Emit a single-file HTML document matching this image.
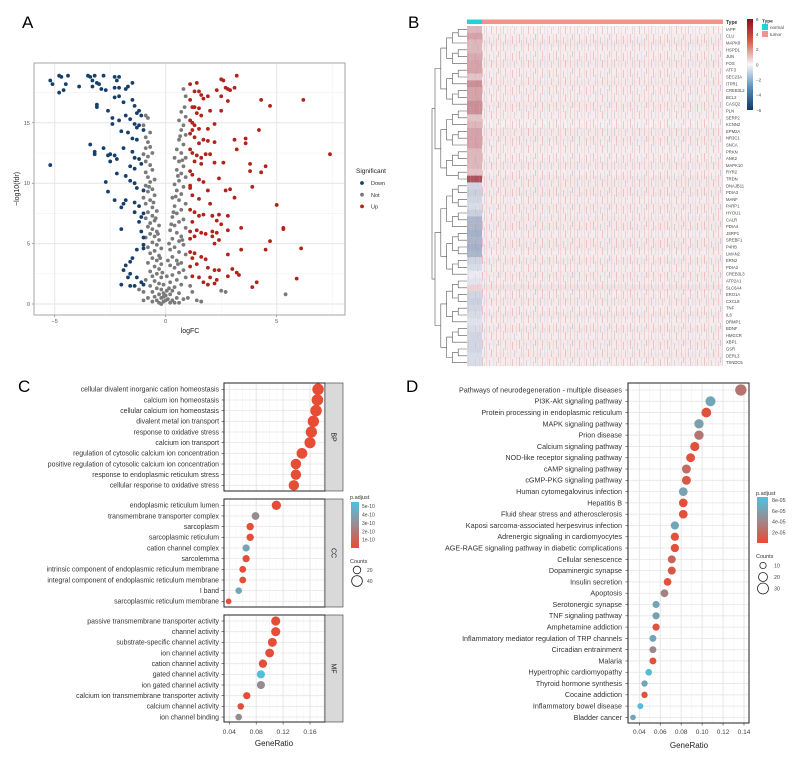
<!DOCTYPE html>
<html><head><meta charset="utf-8">
<style>
html,body{margin:0;padding:0;background:#fff;}
svg{display:block;font-family:"Liberation Sans",sans-serif;}
</style></head>
<body>
<svg id="fig" width="809" height="757" viewBox="0 0 809 757" xmlns="http://www.w3.org/2000/svg">
<defs>
<linearGradient id="hmbar" x1="0" y1="0" x2="0" y2="1">
<stop offset="0" stop-color="#8e0c1e"/><stop offset="0.25" stop-color="#d6604d"/><stop offset="0.5" stop-color="#f7f7f7"/><stop offset="0.75" stop-color="#5b8fc3"/><stop offset="1" stop-color="#13386b"/>
</linearGradient>
<linearGradient id="pbar" x1="0" y1="0" x2="0" y2="1">
<stop offset="0" stop-color="#4fc1e0"/><stop offset="0.5" stop-color="#9c8a8f"/><stop offset="1" stop-color="#ea4a32"/>
</linearGradient>
<pattern id="streaks" patternUnits="userSpaceOnUse" width="37" height="17">
<rect x="1" y="0" width="0.9" height="9" fill="#d9534f" opacity="0.3"/>
<rect x="3" y="6" width="0.8" height="11" fill="#6d8fbd" opacity="0.25"/>
<rect x="5" y="0" width="1.1" height="17" fill="#eab0b0" opacity="0.35"/>
<rect x="8" y="3" width="0.8" height="7" fill="#6d8fbd" opacity="0.3"/>
<rect x="10" y="9" width="0.9" height="8" fill="#d9534f" opacity="0.3"/>
<rect x="12" y="0" width="1.2" height="12" fill="#c8d4e4" opacity="0.4"/>
<rect x="15" y="4" width="0.8" height="13" fill="#d9534f" opacity="0.25"/>
<rect x="17" y="0" width="1" height="6" fill="#6d8fbd" opacity="0.3"/>
<rect x="19" y="0" width="1.1" height="17" fill="#eab0b0" opacity="0.35"/>
<rect x="22" y="8" width="0.8" height="9" fill="#6d8fbd" opacity="0.3"/>
<rect x="24" y="0" width="0.9" height="10" fill="#d9534f" opacity="0.28"/>
<rect x="26" y="5" width="1.2" height="12" fill="#c8d4e4" opacity="0.4"/>
<rect x="29" y="0" width="0.8" height="17" fill="#eab0b0" opacity="0.35"/>
<rect x="31" y="2" width="0.9" height="8" fill="#c23b3b" opacity="0.25"/>
<rect x="33" y="10" width="0.8" height="7" fill="#6d8fbd" opacity="0.28"/>
<rect x="35" y="0" width="1" height="13" fill="#eab0b0" opacity="0.35"/>
</pattern>
</defs>
</svg>
<script>
// ---------- DATA: panel A (volcano) ----------
const downPts=[[-5.2,18.5],[-5.1,18.2],[-4.8,18.9],[-4.7,18.8],[-4.4,18.9],[-4.5,18.2],[-4.6,17.7],[-4.8,17.5],[-3.9,18],[-3.5,18.9],[-3.4,18.8],[-3.3,18.5],[-3.2,18.9],[-3.1,18.3],[-3.0,18.2],[-3.3,18.0],[-2.8,18.9],[-2.7,17.7],[-2.9,17.8],[-2.3,18.8],[-2.2,18.5],[-2.1,18.8],[-2.3,17.9],[-2.1,17.9],[-1.8,17.8],[-1.7,18.0],[-1.5,18.3],[-2.3,17.1],[-2.1,17.2],[-3.1,16.5],[-3.1,16.3],[-2.6,16.0],[-1.9,16.7],[-1.5,16.9],[-1.4,16.4],[-1.2,16.0],[-1.1,15.6],[-1.3,15.8],[-2.4,15.4],[-2.1,15.2],[-1.8,15.6],[-1.6,15.3],[-1.4,14.9],[-1.3,14.6],[-2.4,14.9],[-2.0,14.3],[-1.7,14.2],[-1.2,14.8],[-1.0,14.4],[-1.5,13.7],[-1.3,13.6],[-3.4,13.2],[-3.2,12.6],[-3.2,12.4],[-2.8,12.9],[-2.5,12.4],[-2.3,12.3],[-2.6,12.3],[-2.2,12.0],[-2.5,11.8],[-1.9,12.9],[-1.5,12.6],[-1.4,12.1],[-1.2,12.0],[-1.6,11.4],[-1.4,11.2],[-1.1,11.6],[-1.8,10.6],[-2.2,10.8],[-5.2,11.5],[-2.7,10.1],[-1.6,10.2],[-1.4,10.0],[-1.3,9.6],[-1.0,9.4],[-2.6,9.3],[-2.3,8.6],[-1.9,8.3],[-1.8,8.6],[-2.0,8.0],[-1.4,8.4],[-1.2,8.1],[-1.4,7.6],[-1.0,7.5],[-1.1,7.2],[-1.2,6.8],[-2.0,6.2],[-1.1,6.0],[-1.0,5.5],[-1.0,4.9],[-1.0,4.6],[-1.3,4.5],[-1.5,3.8],[-1.6,3.5],[-1.8,3.2],[-1.9,2.8],[-1.6,2.5],[-1.7,2.2],[-1.3,2.2],[-1.4,1.5],[-1.6,1.5],[-2.0,1.6],[-1.1,1.8],[-1.0,1.6]];
const upPts=[[1.1,18.2],[1.4,18.3],[1.5,17.6],[1.6,17.3],[1.7,17.0],[1.9,17.2],[1.3,17.6],[2.3,17.7],[2.5,18.6],[2.6,18.5],[2.7,17.9],[2.8,17.8],[2.9,17.7],[3.1,17.9],[3.2,18.9],[2.5,17.2],[2.8,16.8],[1.1,16.9],[1.2,16.3],[1.3,16.3],[1.5,16.2],[1.4,15.8],[1.6,15.6],[2.0,16.0],[2.5,16.0],[4.3,16.9],[4.7,16.4],[6.2,16.9],[1.1,15.2],[1.2,15.0],[1.3,14.8],[1.2,14.4],[1.5,14.5],[1.9,14.5],[2.2,14.9],[4.2,14.4],[1.1,14.1],[1.3,13.8],[1.5,13.3],[1.7,13.6],[1.9,13.5],[2.2,13.4],[3.1,13.6],[3.6,13.7],[3.6,13.3],[3.2,12.8],[1.1,12.8],[1.2,12.5],[1.4,12.3],[1.6,12.1],[1.8,12.4],[2.0,12.4],[1.3,11.8],[1.6,11.6],[2.2,11.7],[2.6,11.7],[3.8,11.6],[4.5,11.4],[7.4,12.4],[1.1,11.0],[1.2,10.7],[1.5,10.3],[1.7,10.1],[2.4,10.4],[3.8,11.0],[4.3,10.9],[1.1,9.8],[1.1,9.6],[1.9,9.4],[2.7,9.4],[2.9,9.5],[3.9,9.7],[1.2,9.0],[1.5,8.7],[2.0,8.3],[3.1,8.8],[5.0,8.2],[1.1,7.8],[1.3,7.6],[1.5,7.3],[1.7,7.4],[2.1,7.3],[2.4,7.4],[2.8,7.3],[1.2,6.8],[2.3,6.9],[2.5,6.6],[1.1,6.0],[1.4,6.1],[1.6,5.9],[1.8,5.8],[2.1,6.0],[2.3,5.9],[2.8,6.1],[3.4,6.3],[5.3,6.2],[5.3,6.3],[1.1,5.4],[1.3,5.6],[2.1,5.6],[2.4,5.3],[2.2,5.0],[4.7,5.2],[4.5,4.5],[6.1,4.6],[1.1,4.3],[1.3,4.2],[3.4,4.5],[1.2,3.8],[1.6,3.9],[1.8,3.7],[2.8,4.1],[1.1,3.1],[1.4,3.3],[1.9,3.0],[2.2,2.8],[2.4,2.8],[3.0,2.9],[3.2,2.6],[1.2,2.3],[1.5,2.2],[2.0,2.2],[2.3,2.0],[2.8,2.3],[3.3,2.4],[5.9,2.1],[1.7,1.8],[1.9,1.6],[2.2,1.7],[3.9,1.4],[4.1,1.8]];
const notPts=[[-0.9,15.6],[-0.8,15.4],[-1.0,14.8],[-0.8,13.4],[-0.7,13.0],[-0.9,12.9],[-0.6,12.5],[-0.8,12.2],[-0.9,11.8],[-0.7,11.5],[-0.6,11.1],[-0.9,10.9],[-0.8,10.5],[-0.5,10.3],[-0.7,10.1],[-0.9,9.8],[-0.6,9.5],[-0.8,9.3],[-0.5,9.0],[-1.0,8.8],[-0.7,8.6],[-0.9,8.3],[-0.6,8.0],[-0.4,7.7],[-0.8,7.6],[-0.6,7.3],[-0.9,7.1],[-0.5,6.9],[-0.7,6.7],[-0.3,6.5],[-0.8,6.4],[-0.6,6.2],[-0.4,6.0],[-0.7,5.8],[-0.5,5.6],[-0.9,5.5],[-0.3,5.3],[-0.6,5.1],[-0.4,4.9],[-0.8,4.7],[-0.2,4.6],[-0.5,4.4],[-0.7,4.2],[-0.3,4.0],[-0.6,3.8],[-0.4,3.6],[-0.8,3.4],[-0.2,3.3],[-0.5,3.1],[-0.3,2.9],[-0.7,2.7],[-0.4,2.5],[-0.6,2.3],[-0.2,2.2],[-0.9,2.0],[-0.5,1.9],[-0.3,1.7],[-0.7,1.5],[-0.4,1.3],[-0.2,1.2],[-0.6,1.0],[-1.0,1.0],[-0.3,0.8],[-0.5,0.6],[-0.8,0.5],[-0.2,0.5],[-0.4,0.3],[-0.1,0.2],[-0.6,0.2],[-0.3,0.1],[-0.1,0.6],[-0.1,0.9],[0.0,0.3],[0.0,0.7],[-0.9,13.8],[-0.7,14.2],[-1.0,12.4],[-0.75,9.7],[-0.55,8.4],[-0.45,7.1],[-0.35,5.8],[-0.25,3.8],[-0.15,2.6],[-0.1,1.6],[0.05,1.1],[0.1,0.4],[0.2,0.1],[-0.2,0.0],[-1.2,1.2],[-1.0,0.3],
[0.8,17.8],[0.9,17.2],[0.85,16.3],[0.7,15.9],[0.9,15.5],[0.6,15.2],[0.8,14.8],[0.7,14.4],[0.9,14.0],[0.6,13.6],[0.8,13.2],[0.5,12.8],[0.7,12.5],[0.9,12.1],[0.4,12.1],[0.6,11.8],[0.8,11.4],[0.5,11.1],[0.7,10.8],[0.9,10.5],[0.6,10.2],[0.4,9.9],[0.8,9.7],[0.5,9.4],[0.7,9.1],[0.3,8.8],[0.6,8.6],[0.9,8.3],[0.4,8.1],[0.7,7.8],[0.5,7.5],[0.3,7.2],[0.8,7.0],[0.6,6.8],[0.4,6.5],[0.9,6.3],[0.2,6.1],[0.5,5.9],[0.7,5.6],[0.3,5.4],[0.6,5.2],[0.8,4.9],[0.4,4.7],[0.2,4.5],[0.6,4.3],[0.9,4.1],[0.3,3.9],[0.5,3.6],[0.7,3.4],[0.2,3.2],[0.4,3.0],[0.8,2.8],[0.6,2.6],[0.3,2.4],[0.9,2.2],[0.5,2.0],[0.2,1.8],[0.7,1.6],[0.4,1.4],[0.3,1.1],[0.6,0.9],[0.2,0.8],[0.5,0.5],[0.3,0.3],[0.8,0.4],[0.4,0.1],[0.6,0.1],[1.1,1.5],[1.2,1.0],[1.0,0.5],[1.6,0.2],[1.4,0.3],[2.5,1.1],[2.7,1.0],[5.4,0.8],[0.65,13.9],[0.75,11.9],[0.55,10.6],[0.45,8.9],[0.35,7.6],[0.25,6.6],[0.15,5.0],[0.1,3.6],[0.05,2.3],[0.15,1.3],[0.55,3.3],[0.75,5.3]];
const volcanoXTicks=[-5,0,5];
const volcanoYTicks=[0,5,10,15];

// ---------- DATA: panel B (heatmap) ----------
const genes=["IAPP","CLU","MAPK8","HSPD1","JUN","FOS","ATF3","SEC23A","ITPR1","CREB3L2","BCL2","CASQ2","PLN","SERP2","KCNN2","EPM2A","NR3C1","SNCA","PRKN","ANK2","MAPK10","RYR2","TRDN","DNAJB11","PDIA3","MANF","PARP1","HYOU1","CALR","PDIA4","JSRP1","SREBF1","P4HB","LMAN2","ERN2","PDIA2","CREB3L3","ATP2A1","SLC6A4","ERO1A","CXCL8","TNF","IL6","DRMP1","BDNF","HMGCR","XBP1","GSR","DERL3","TXNDC5"];
const normalVals=[1.5,2,1.5,1.5,1.8,2,2,1.2,2.5,2,2,2.5,2.5,1.2,1.5,2,2,2,1.5,1.5,1.5,1.2,4,-1,-1.2,-1,-0.8,-1.2,-2,-2,-2.2,-2,-2.2,-2,-1,-0.8,-0.3,-0.5,0.8,-1,-1.2,-1,-0.8,-0.6,-0.8,-1,-1,-1,-0.8,-0.8];
const tumorVals=[0.1,0.2,0.3,0.2,0.2,0.3,0.2,0.2,0.3,0.2,0.2,0.3,0.2,0.2,0.1,0.3,0.3,0.2,0.2,0.2,0.3,0.2,0.3,0.3,0.3,0.2,0.3,0.2,0.3,0.3,0.2,0.3,0.3,0.2,0.3,0.2,0.3,0.2,0.4,0.2,0.3,0.2,0.3,0.2,0.3,0.2,0.3,0.2,0.3,0.2];
const hmLegendTicks=[6,4,2,0,-2,-4,-6];

// ---------- DATA: panel C (GO dotplot) ----------
const bpTerms=["cellular divalent inorganic cation homeostasis","calcium ion homeostasis","cellular calcium ion homeostasis","divalent metal ion transport","response to oxidative stress","calcium ion transport","regulation of cytosolic calcium ion concentration","positive regulation of cytosolic calcium ion concentration","response to endoplasmic reticulum stress","cellular response to oxidative stress"];
const bpRatio=[0.172,0.171,0.169,0.165,0.162,0.160,0.148,0.139,0.139,0.136];
const bpP=[0.1e-10,0.1e-10,0.1e-10,0.1e-10,0.1e-10,0.1e-10,0.1e-10,0.1e-10,0.1e-10,0.1e-10];
const ccTerms=["endoplasmic reticulum lumen","transmembrane transporter complex","sarcoplasm","sarcoplasmic reticulum","cation channel complex","sarcolemma","intrinsic component of endoplasmic reticulum membrane","integral component of endoplasmic reticulum membrane","I band","sarcoplasmic reticulum membrane"];
const ccRatio=[0.110,0.079,0.071,0.071,0.065,0.065,0.060,0.060,0.054,0.039];
const ccP=[0.2e-10,3e-10,0.2e-10,0.2e-10,4.2e-10,0.2e-10,0.2e-10,0.2e-10,4.2e-10,0.2e-10];
const mfTerms=["passive transmembrane transporter activity","channel activity","substrate-specific channel activity","ion channel activity","cation channel activity","gated channel activity","ion gated channel activity","calcium ion transmembrane transporter activity","calcium channel activity","ion channel binding"];
const mfRatio=[0.109,0.109,0.104,0.100,0.090,0.087,0.087,0.066,0.057,0.054];
const mfP=[0.2e-10,0.2e-10,0.2e-10,0.2e-10,0.2e-10,5.4e-10,3e-10,0.2e-10,0.2e-10,3e-10];
const goXTicks=[0.04,0.08,0.12,0.16];
const goPTicks=[5e-10,4e-10,3e-10,2e-10,1e-10];
const goPLabels=["5e-10","4e-10","3e-10","2e-10","1e-10"];
const goCountTicks=[20,40];

// ---------- DATA: panel D (KEGG dotplot) ----------
const keggTerms=["Pathways of neurodegeneration - multiple diseases","PI3K-Akt signaling pathway","Protein processing in endoplasmic reticulum","MAPK signaling pathway","Prion disease","Calcium signaling pathway","NOD-like receptor signaling pathway","cAMP signaling pathway","cGMP-PKG signaling pathway","Human cytomegalovirus infection","Hepatitis B","Fluid shear stress and atherosclerosis","Kaposi sarcoma-associated herpesvirus infection","Adrenergic signaling in cardiomyocytes","AGE-RAGE signaling pathway in diabetic complications","Cellular senescence","Dopaminergic synapse","Insulin secretion","Apoptosis","Serotonergic synapse","TNF signaling pathway","Amphetamine addiction","Inflammatory mediator regulation of TRP channels","Circadian entrainment","Malaria","Hypertrophic cardiomyopathy","Thyroid hormone synthesis","Cocaine addiction","Inflammatory bowel disease","Bladder cancer"];
const keggRatio=[0.137,0.108,0.104,0.097,0.097,0.093,0.089,0.085,0.085,0.082,0.082,0.082,0.074,0.074,0.074,0.071,0.071,0.067,0.064,0.056,0.056,0.056,0.053,0.053,0.053,0.049,0.045,0.045,0.041,0.034];
const keggP=[3e-5,6.6e-5,0.5e-5,6.2e-5,3e-5,0.5e-5,0.5e-5,2.5e-5,1e-5,6.4e-5,0.5e-5,0.5e-5,6.6e-5,0.5e-5,0.5e-5,2e-5,1e-5,0.5e-5,4e-5,6.6e-5,6.2e-5,0.5e-5,6.6e-5,4.5e-5,0.5e-5,8.2e-5,6.6e-5,0.5e-5,8.4e-5,6.6e-5];
const keggXTicks=[0.04,0.06,0.08,0.10,0.12,0.14];
const keggPTicks=[8e-5,6e-5,4e-5,2e-5];
const keggPLabels=["8e-05","6e-05","4e-05","2e-05"];
const keggCountTicks=[10,20,30];

// ---------- helpers ----------
const NS="http://www.w3.org/2000/svg";
const svg=document.getElementById("fig");
function mk(tag,attrs,parent){const e=document.createElementNS(NS,tag);for(const k in attrs)e.setAttribute(k,attrs[k]);(parent||svg).appendChild(e);return e;}
function txt(s,attrs,parent){const e=mk("text",attrs,parent);e.textContent=s;return e;}
function grp(parent){return mk("g",{},parent);}
function mix(a,b,t){return "rgb("+a.map((v,i)=>Math.round(v+(b[i]-v)*t)).join(",")+")";}
const RED=[234,74,50],BLUE=[79,193,224];
function pColor(p,max){return mix(RED,BLUE,Math.max(0,Math.min(1,p/max)));}

// panel labels
[["A",22,28],["B",408,28],["C",18,392],["D",406,392]].forEach(l=>{
  const t=txt(l[0],{x:l[1],y:l[2],"font-size":"17"});
  
  
});

// ================= PANEL A =================
(function(){
  const g=grp();
  
  
  const L=34,R=345,T=63,B=315;
  const sx=v=>165.7+v*22.2, sy=v=>304-v*12.08;
  mk("rect",{x:L,y:T,width:R-L,height:B-T,fill:"#fff"},g);
  [-2.5,2.5,7.5].forEach(v=>mk("line",{x1:sx(v),x2:sx(v),y1:T,y2:B,stroke:"#f2f2f2","stroke-width":0.6},g));
  [2.5,7.5,12.5,17.5].forEach(v=>mk("line",{x1:L,x2:R,y1:sy(v),y2:sy(v),stroke:"#f2f2f2","stroke-width":0.6},g));
  volcanoXTicks.forEach(v=>{mk("line",{x1:sx(v),x2:sx(v),y1:T,y2:B,stroke:"#e6e6e6","stroke-width":1},g);
    const t=txt(String(v).replace("-","\u2212"),{x:sx(v),y:B+8,"font-size":"5.5","text-anchor":"middle",fill:"#555"},g);
    
    
    mk("line",{x1:sx(v),x2:sx(v),y1:B,y2:B+2,stroke:"#555","stroke-width":0.5},g);});
  volcanoYTicks.forEach(v=>{mk("line",{x1:L,x2:R,y1:sy(v),y2:sy(v),stroke:"#e6e6e6","stroke-width":1},g);
    const t=txt(String(v),{x:L-4,y:sy(v)+2,"font-size":"5.5","text-anchor":"end",fill:"#555"},g);
    
    
    mk("line",{x1:L-2,x2:L,y1:sy(v),y2:sy(v),stroke:"#555","stroke-width":0.5},g);});
  const drawSet=(pts,col,name)=>{const sg=grp(g);
    
    
    pts.forEach(p=>{const c=mk("circle",{cx:sx(p[0]),cy:sy(p[1]),r:1.9,fill:col},sg);
      
      });};
  drawSet(notPts,"#7a7a7a","series-not");
  drawSet(downPts,"#16406b","series-down");
  drawSet(upPts,"#b0231b","series-up");
  mk("rect",{x:L,y:T,width:R-L,height:B-T,fill:"none",stroke:"#a6a6a6","stroke-width":1},g);
  const xt=txt("logFC",{x:190,y:333,"font-size":"7","text-anchor":"middle",fill:"#222"},g);
  
  
  const yt=txt("\u2212log10(fdr)",{x:0,y:0,"font-size":"7","text-anchor":"middle",fill:"#222",transform:"translate(19,189) rotate(-90)"},g);
  
  
  const lg=grp(g);
  
  
  txt("Significant",{x:356,y:173,"font-size":"6.5",fill:"#222"},lg);
  [["Down","#16406b"],["Not","#7a7a7a"],["Up","#b0231b"]].forEach((e,i)=>{
    const eg=grp(lg);
    
    
    mk("circle",{cx:362,cy:183+i*11.7,r:1.9,fill:e[1]},eg);
    txt(e[0],{x:371,y:185.2+i*11.7,"font-size":"5.5",fill:"#333"},eg);});
})();

// ================= PANEL B =================
(function(){
  const g=grp();
  
  
  const L=467,NR=482,R=723,T=26,rh=6.8;
  const hmColor=v=>{const t=Math.min(Math.abs(v)/6,1);
    return v>=0?mix([250,244,244],[140,10,30],t*1.05>1?1:t*1.05):mix([246,246,250],[20,55,110],t);};
  genes.forEach((name,i)=>{
    const y=T+i*rh;
    const n=mk("rect",{x:L,y:y,width:NR-L,height:rh+0.2,fill:hmColor(normalVals[i])},g);
    
    
    const tcell=mk("rect",{x:NR,y:y,width:R-NR,height:rh+0.2,fill:hmColor(tumorVals[i])},g);
    
    
    const lab=txt(name,{x:R+3,y:y+rh/2+1.5,"font-size":"4.2",fill:"#444"},g);
    
    
  });
  mk("rect",{x:NR,y:T,width:R-NR,height:rh*genes.length,fill:"url(#streaks)"},g);
  mk("rect",{x:L,y:T,width:NR-L,height:rh*genes.length,fill:"url(#streaks)",opacity:0.4},g);
  const an1=mk("rect",{x:L,y:19.5,width:NR-L,height:4.5,fill:"#1fd3d9"},g);
  
  
  const an2=mk("rect",{x:NR,y:19.5,width:R-NR,height:4.5,fill:"#f7928a"},g);
  
  
  txt("Type",{x:R+3,y:24,"font-size":"5","font-weight":"bold",fill:"#333"},g);
  const dg=grp(g);
  
  
  function build(lo,hi){ if(lo===hi) return {y:T+lo*rh+rh/2,x:L};
    const mid=Math.floor((lo+hi)/2);
    const a=build(lo,mid),b=build(mid+1,hi);
    const sz=hi-lo+1;
    const x=L-3-5.8*Math.ceil(Math.log2(sz));
    mk("path",{d:`M${a.x},${a.y}H${x}V${b.y}H${b.x}`,fill:"none",stroke:"#555","stroke-width":0.6},dg);
    return {y:(a.y+b.y)/2,x:x};}
  const top=build(0,22), bot=build(23,49);
  mk("path",{d:`M${top.x},${top.y}H432V${bot.y}H${bot.x}`,fill:"none",stroke:"#555","stroke-width":0.6},dg);
  const lg=grp(g);
  
  
  mk("rect",{x:747,y:19,width:6,height:91,fill:"url(#hmbar)"},lg);
  hmLegendTicks.forEach(v=>{const y=19+(6-v)/12*91;
    txt(String(v).replace("-","\u2212"),{x:756,y:y+1.8,"font-size":"4.5",fill:"#444"},lg);});
  txt("Type",{x:762,y:22.5,"font-size":"4.8","font-weight":"bold",fill:"#333"},lg);
  mk("rect",{x:762,y:24,width:6,height:6,fill:"#1fd3d9"},lg);
  mk("rect",{x:762,y:31,width:6,height:6,fill:"#f7928a"},lg);
  txt("normal",{x:770,y:29,"font-size":"4.5",fill:"#444"},lg);
  txt("tumor",{x:770,y:36,"font-size":"4.5",fill:"#444"},lg);
})();

// ================= PANEL C =================
(function(){
  const g=grp();
  
  
  const L=224,R=325,sx=v=>229.3+(v-0.04)*672.5;
  const facets=[["BP",bpTerms,bpRatio,bpP,383,491,389.3],["CC",ccTerms,ccRatio,ccP,499,607,505.3],["MF",mfTerms,mfRatio,mfP,615,722,621]];
  const r=c=>Math.sqrt(c)*0.85;
  facets.forEach(f=>{
    const [lab,terms,ratio,ps,T,B,y0]=f; const rh=10.67;
    const fg=grp(g);
    
    
    mk("rect",{x:L,y:T,width:R-L,height:B-T,fill:"#fff"},fg);
    for(let v=0.04;v<=0.181;v+=0.02){const major=Math.round(v*100)%4===0;
      mk("line",{x1:sx(v),x2:sx(v),y1:T,y2:B,stroke:major?"#e3e3e3":"#efefef","stroke-width":major?0.9:0.5},fg);}
    for(let v=0.05;v<=0.181;v+=0.02) mk("line",{x1:sx(v),x2:sx(v),y1:T,y2:B,stroke:"#f4f4f4","stroke-width":0.4},fg);
    terms.forEach((t,i)=>{const y=y0+i*rh;
      mk("line",{x1:L,x2:R,y1:y,y2:y,stroke:"#e6e6e6","stroke-width":0.8},fg);
      mk("line",{x1:L-2.5,x2:L,y1:y,y2:y,stroke:"#333","stroke-width":0.6},fg);
      const tl=txt(t,{x:L-5,y:y+2.3,"font-size":"6.9","text-anchor":"end",fill:"#333"},fg);
      
      });
    terms.forEach((t,i)=>{const cnt=Math.round(ratio[i]*270);
      const c=mk("circle",{cx:sx(ratio[i]),cy:y0+i*rh,r:r(cnt),fill:pColor(ps[i],5.5e-10)},fg);
      
      });
    mk("rect",{x:L,y:T,width:R-L,height:B-T,fill:"none",stroke:"#222","stroke-width":1},fg);
    const st=mk("rect",{x:R,y:T,width:18,height:B-T,fill:"#d9d9d9",stroke:"#333","stroke-width":0.6},fg);
    
    
    txt(lab,{x:0,y:0,"font-size":"7","text-anchor":"middle",fill:"#222",transform:`translate(${R+6.5},${(T+B)/2}) rotate(90)`},fg);
  });
  goXTicks.forEach(v=>{mk("line",{x1:sx(v),x2:sx(v),y1:722,y2:724.5,stroke:"#333","stroke-width":0.6},g);
    const t=txt(v.toFixed(2),{x:sx(v),y:734,"font-size":"6.8","text-anchor":"middle",fill:"#444"},g);
    
    });
  const xt=txt("GeneRatio",{x:274,y:746,"font-size":"8","text-anchor":"middle",fill:"#222"},g);
  
  
  const lg=grp(g);
  
  
  txt("p.adjust",{x:350,y:499,"font-size":"5.5",fill:"#333"},lg);
  mk("rect",{x:351,y:502,width:8,height:46,fill:"url(#pbar)"},lg);
  goPTicks.forEach((p,i)=>{const y=548-(p/5.5e-10)*46;
    txt(goPLabels[i],{x:362,y:y+2,"font-size":"5",fill:"#444"},lg);});
  txt("Counts",{x:350,y:563,"font-size":"5.5",fill:"#333"},lg);
  goCountTicks.forEach((c,i)=>{const y=570+i*11;
    mk("circle",{cx:357,cy:y,r:r(c),fill:"none",stroke:"#222","stroke-width":0.8},lg);
    txt(String(c),{x:367,y:y+2,"font-size":"5",fill:"#444"},lg);});
})();

// ================= PANEL D =================
(function(){
  const g=grp();
  
  
  const L=628,R=749,T=383,B=723,y0=390,rh=11.29;
  const sx=v=>639.3+(v-0.04)*1047;
  const r=c=>Math.sqrt(c);
  mk("rect",{x:L,y:T,width:R-L,height:B-T,fill:"#fff"},g);
  for(let v=0.03;v<=0.145;v+=0.01){const major=Math.round(v*100)%2===0;
    mk("line",{x1:sx(v),x2:sx(v),y1:T,y2:B,stroke:major?"#e3e3e3":"#f0f0f0","stroke-width":major?0.9:0.5},g);}
  keggTerms.forEach((t,i)=>{const y=y0+i*rh;
    mk("line",{x1:L,x2:R,y1:y,y2:y,stroke:"#e6e6e6","stroke-width":0.8},g);
    mk("line",{x1:L-2.5,x2:L,y1:y,y2:y,stroke:"#333","stroke-width":0.6},g);
    const tl=txt(t,{x:L-6,y:y+2.4,"font-size":"7.2","text-anchor":"end",fill:"#333"},g);
    
    });
  keggTerms.forEach((t,i)=>{const cnt=Math.round(keggRatio[i]*230);
    const c=mk("circle",{cx:sx(keggRatio[i]),cy:y0+i*rh,r:r(cnt),fill:pColor(keggP[i],8.6e-5)},g);
    
    });
  mk("rect",{x:L,y:T,width:R-L,height:B-T,fill:"none",stroke:"#222","stroke-width":1},g);
  keggXTicks.forEach(v=>{mk("line",{x1:sx(v),x2:sx(v),y1:B,y2:B+2.5,stroke:"#333","stroke-width":0.6},g);
    const t=txt(v.toFixed(2),{x:sx(v),y:B+11,"font-size":"6.5","text-anchor":"middle",fill:"#444"},g);
    
    });
  const xt=txt("GeneRatio",{x:689,y:748,"font-size":"8","text-anchor":"middle",fill:"#222"},g);
  
  
  const lg=grp(g);
  
  
  txt("p.adjust",{x:756,y:495,"font-size":"5.5",fill:"#333"},lg);
  mk("rect",{x:757,y:497,width:11,height:46,fill:"url(#pbar)"},lg);
  keggPTicks.forEach((p,i)=>{const y=543-(p/8.6e-5)*46;
    txt(keggPLabels[i],{x:772,y:y+2,"font-size":"5.3",fill:"#444"},lg);});
  txt("Counts",{x:756,y:558,"font-size":"5.5",fill:"#333"},lg);
  keggCountTicks.forEach((c,i)=>{const y=565.5+i*11.5;
    mk("circle",{cx:763,cy:y,r:r(c),fill:"none",stroke:"#222","stroke-width":0.8},lg);
    txt(String(c),{x:774,y:y+2,"font-size":"5.3",fill:"#444"},lg);});
})();
</script>
</body></html>
